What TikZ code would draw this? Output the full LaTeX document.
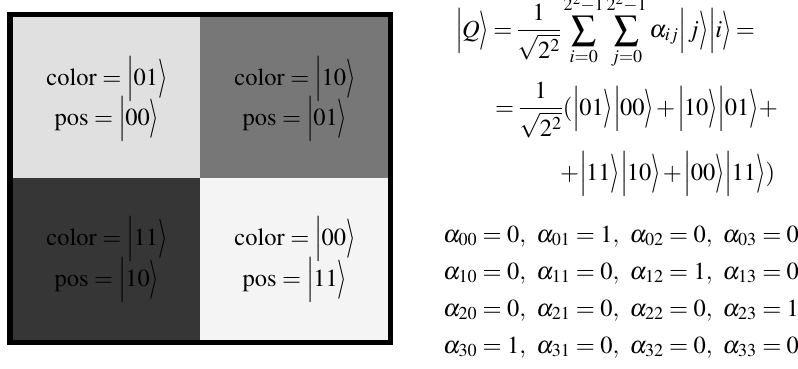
\documentclass[tikz,border=0pt]{standalone}
\usepackage{mathptmx}
\usepackage{graphicx}
\definecolor{cTL}{HTML}{E0E0E0}
\definecolor{cTR}{HTML}{777777}
\definecolor{cBL}{HTML}{363636}
\definecolor{cBR}{HTML}{F4F4F4}
\newcommand{\rket}{\mathclose{\vcenter{\hbox{\scalebox{1}[1.6]{$\rangle$}}}}}
\newcommand{\kt}[1]{\mathopen{\Big|}\mkern-1mu#1\rket}
\begin{document}
\begin{tikzpicture}[x=1pt,y=-1pt,
  cell/.style={inner sep=0pt},
  lbl/.style={inner sep=0pt, anchor=base, font=\fontsize{24.5}{28}\selectfont},
  eq/.style={anchor=base west, inner sep=0pt, font=\fontsize{24.5}{28}\selectfont},
  al/.style={anchor=base west, inner sep=0pt, font=\fontsize{24.5}{28}\selectfont}]
\useasboundingbox (0,0) rectangle (798,368);
\clip (0,0) rectangle (798,368);
\fill[black] (7,12) rectangle (393,345);
\node[cell, fill=cTL, minimum width=187pt, minimum height=161pt] (tl) at (106.5,97.5) {};
\node[cell, fill=cTR, minimum width=188pt, minimum height=161pt] (tr) at (294,97.5) {};
\node[cell, fill=cBL, minimum width=187pt, minimum height=162pt] (bl) at (106.5,259) {};
\node[cell, fill=cBR, minimum width=188pt, minimum height=162pt] (br) at (294,259) {};
\node[lbl] (tlc) at (107,85) {$\thickmuskip=4mu\mathrm{color}=\kt{01}$};
\node[lbl] (tlp) at (107,125) {$\thickmuskip=4mu\mathrm{pos}=\kt{00}$};
\node[lbl] (trc) at (295,85) {$\thickmuskip=4mu\mathrm{color}=\kt{10}$};
\node[lbl] (trp) at (295,125) {$\thickmuskip=4mu\mathrm{pos}=\kt{01}$};
\node[lbl] (blc) at (107,245) {$\thickmuskip=4mu\mathrm{color}=\kt{11}$};
\node[lbl] (blp) at (107,286) {$\thickmuskip=4mu\mathrm{pos}=\kt{10}$};
\node[lbl] (brc) at (295,245) {$\thickmuskip=4mu\mathrm{color}=\kt{00}$};
\node[lbl] (brp) at (295,286) {$\thickmuskip=4mu\mathrm{pos}=\kt{11}$};
\node[eq] (e1) at (455,37) {$\thickmuskip=3mu\medmuskip=1.5mu\displaystyle \kt{Q}=\frac{1}{\sqrt{2^2}}\sum_{i=0}^{2^2-1}\sum_{j=0}^{2^2-1}\alpha_{ij}\kt{\,j}\kt{i}=$};
\node[eq] (e2) at (495,115) {$\thickmuskip=3mu\medmuskip=1.5mu\displaystyle =\frac{1}{\sqrt{2^2}}(\kt{01}\kt{00}+\kt{10}\kt{01}+$};
\node[eq] (e3) at (560,180) {$\thickmuskip=3mu\medmuskip=1.5mu\displaystyle +\kt{11}\kt{10}+\kt{00}\kt{11})$};
\node[al] (a0) at (443,242) {$\alpha_{00}=0,\ \alpha_{01}=1,\ \alpha_{02}=0,\ \alpha_{03}=0$};
\node[al] (a1) at (443,279) {$\alpha_{10}=0,\ \alpha_{11}=0,\ \alpha_{12}=1,\ \alpha_{13}=0$};
\node[al] (a2) at (443,316) {$\alpha_{20}=0,\ \alpha_{21}=0,\ \alpha_{22}=0,\ \alpha_{23}=1$};
\node[al] (a3) at (443,353) {$\alpha_{30}=1,\ \alpha_{31}=0,\ \alpha_{32}=0,\ \alpha_{33}=0$};
\end{tikzpicture}
\end{document}
